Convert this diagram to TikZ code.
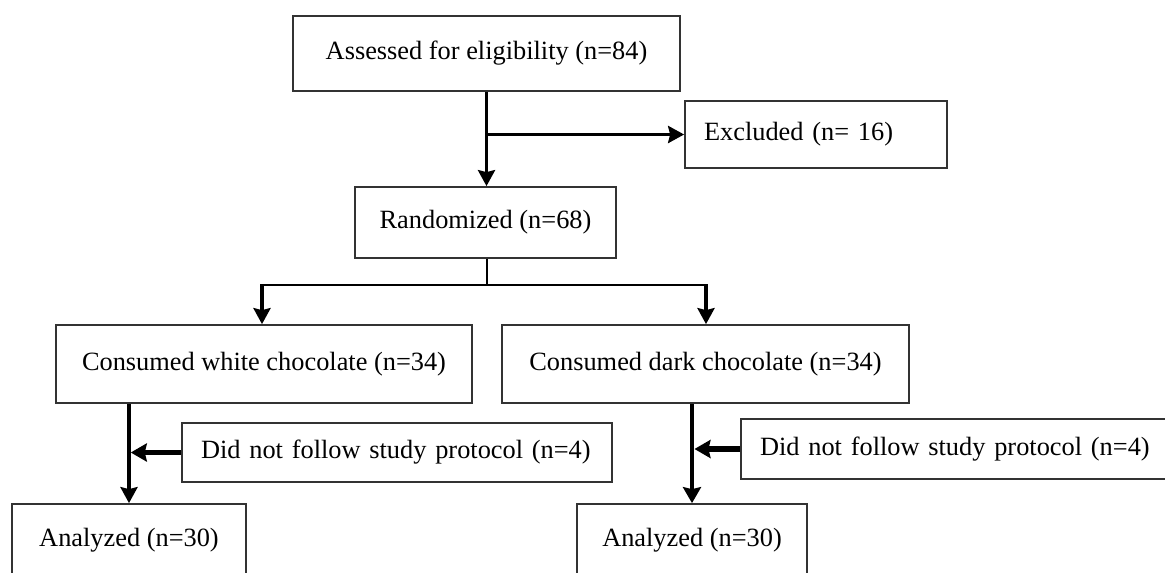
\documentclass[tikz,border=0pt]{standalone}
\usepackage{fontspec}
\setmainfont{Liberation Serif}
\usetikzlibrary{arrows.meta}

\begin{document}
\begin{tikzpicture}[x=0.02cm,y=-0.02cm,
  box/.style={draw=black!80,line width=1pt,inner sep=0pt,font=\fontsize{15}{18}\selectfont},
  lbox/.style={box,align=left,inner xsep=0.38cm},
  thin/.style={line width=0.9pt},
  flow/.style={line width=2pt,-{Stealth[length=0.32cm,width=0.34cm,inset=0.04cm]}},
  heavy/.style={line width=3pt,-{Stealth[length=0.32cm,width=0.36cm,inset=0.04cm]}}]
  \path[fill=white,use as bounding box] (0,0) rectangle (1165,572);
  \node[box,minimum width=7.74cm,minimum height=1.5cm] (elig) at (486.5,53.5) {Assessed for eligibility (n=84)};
  \node[lbox,text width=4.48cm,minimum height=1.34cm] (excl) at (816,134.5) {Excluded (n= 16)};
  \node[box,minimum width=5.22cm,minimum height=1.42cm] (rand) at (485.5,222.5) {Randomized (n=68)};
  \node[box,minimum width=8.32cm,minimum height=1.56cm] (white) at (264,364) {Consumed white chocolate (n=34)};
  \node[box,minimum width=8.14cm,minimum height=1.56cm] (dark) at (705.5,364) {Consumed dark chocolate (n=34)};
  \node[lbox,text width=7.84cm,minimum height=1.18cm] (dnfL) at (397,452.5) {Did not follow study protocol (n=4)};
  \node[lbox,text width=8.42cm,minimum height=1.2cm] (dnfR) at (970.5,449) {Did not follow study protocol (n=4)};
  \node[box,minimum width=4.68cm,minimum height=1.44cm] (anaL) at (129,540) {Analyzed (n=30)};
  \node[box,minimum width=4.6cm,minimum height=1.44cm] (anaR) at (692,540) {Analyzed (n=30)};
  \coordinate (sp) at (487,285);
  \coordinate (spL) at (262,285);
  \coordinate (spR) at (706,285);
  % eligibility and exclusion
  \draw[flow] (elig.south) -- (elig.south |- rand.north);
  \draw[flow] (elig.south |- excl.west) -- (excl.west);
  % allocation
  \draw[thin] (rand.south -| sp) -- (sp);
  \draw[thin] (spL) -- (spR);
  \draw[flow] ([yshift=0.45pt]spL) -- (spL |- white.north);
  \draw[flow] ([yshift=0.45pt]spR) -- (spR |- dark.north);
  % follow-up
  \draw[flow] (anaL.north |- white.south) -- (anaL.north);
  \draw[heavy] (dnfL.west) -- ([xshift=1pt]dnfL.west -| anaL.north);
  \draw[heavy,line width=2.8pt] (anaR.north |- dark.south) -- (anaR.north);
  \draw[heavy] (dnfR.west) -- ([xshift=1.4pt]dnfR.west -| anaR.north);
\end{tikzpicture}
\end{document}
